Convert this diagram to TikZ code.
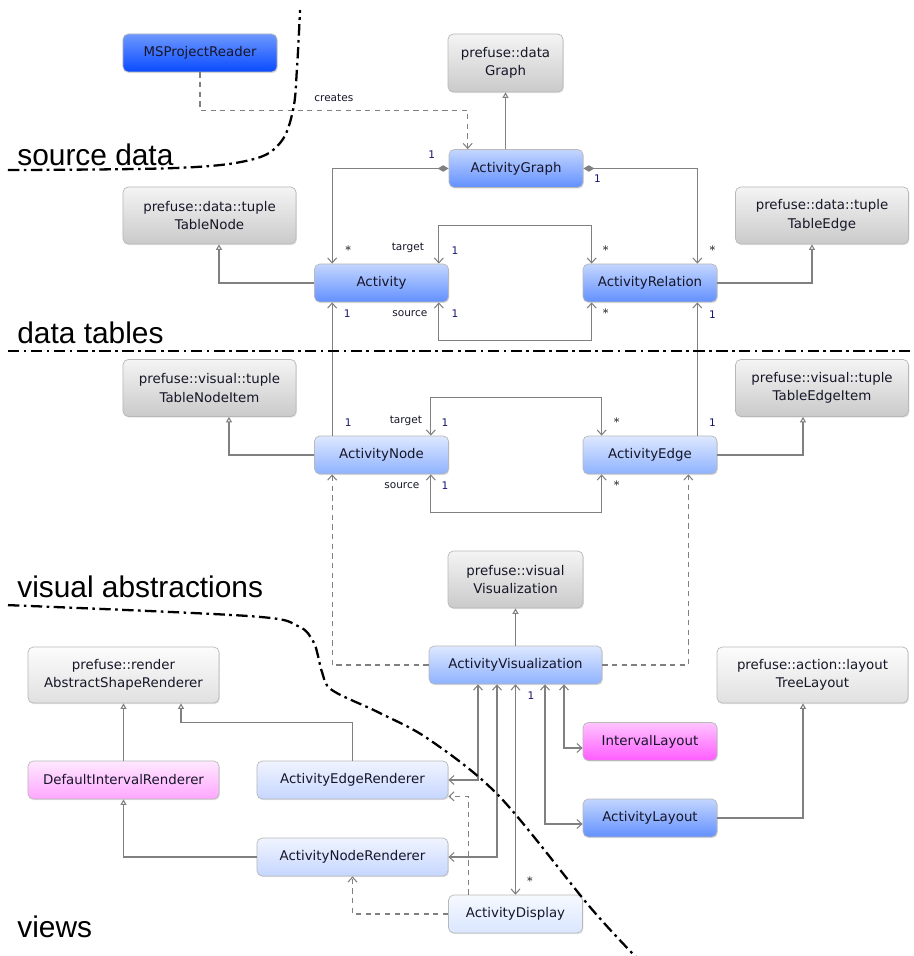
\documentclass[tikz,border=0pt]{standalone}
\usepackage{fontspec}
\setmainfont{DejaVu Sans}
\newfontfamily\regionfont{Liberation Sans}
\usepackage{tikz}
\usetikzlibrary{positioning, arrows.meta, shadows, calc}

\definecolor{textdark}{RGB}{22, 22, 40}
\definecolor{navy}{RGB}{20, 20, 110}
\definecolor{linegray}{RGB}{128, 128, 128}
\definecolor{mspTop}{RGB}{110, 152, 255}
\definecolor{mspBot}{RGB}{8, 74, 255}
\definecolor{blueATop}{RGB}{196, 214, 255}
\definecolor{blueABot}{RGB}{98, 144, 255}
\definecolor{blueBTop}{RGB}{222, 232, 255}
\definecolor{blueBBot}{RGB}{142, 178, 255}
\definecolor{blueCTop}{RGB}{240, 244, 255}
\definecolor{blueCBot}{RGB}{198, 214, 255}
\definecolor{blueDTop}{RGB}{246, 249, 255}
\definecolor{blueDBot}{RGB}{218, 230, 255}
\definecolor{grayTop}{RGB}{244, 244, 244}
\definecolor{grayBot}{RGB}{202, 202, 202}
\definecolor{grayLTop}{RGB}{252, 252, 252}
\definecolor{grayLBot}{RGB}{224, 224, 224}
\definecolor{pinkTop}{RGB}{255, 196, 255}
\definecolor{pinkBot}{RGB}{255, 92, 255}
\definecolor{pinkLTop}{RGB}{255, 232, 255}
\definecolor{pinkLBot}{RGB}{255, 166, 255}

\begin{document}
\begin{tikzpicture}[
    on grid,
    >={Straight Barb[length=1mm, width=1.8mm]},
    cls/.style={draw=black!28, rounded corners=3pt, minimum width=2.68cm, minimum height=0.76cm, align=center, text=textdark, font=\fontsize{7.6}{10.5}\selectfont, drop shadow={opacity=0.22, shadow xshift=0.5pt, shadow yshift=-0.7pt}},
    msp/.style={cls, top color=mspTop, bottom color=mspBot},
    blueA/.style={cls, top color=blueATop, bottom color=blueABot},
    blueB/.style={cls, top color=blueBTop, bottom color=blueBBot},
    blueC/.style={cls, top color=blueCTop, bottom color=blueCBot},
    blueD/.style={cls, top color=blueDTop, bottom color=blueDBot},
    pinkA/.style={cls, top color=pinkTop, bottom color=pinkBot},
    pinkB/.style={cls, top color=pinkLTop, bottom color=pinkLBot},
    pkg/.style={cls, top color=grayTop, bottom color=grayBot, minimum width=3.46cm, minimum height=1.14cm},
    pkgLight/.style={cls, top color=grayLTop, bottom color=grayLBot, minimum width=3.82cm, minimum height=1.12cm},
    assoc/.style={->, linegray, line width=0.6pt},
    biassoc/.style={<->, linegray, line width=0.6pt},
    depend/.style={->, linegray, line width=0.6pt, dash pattern=on 3pt off 2.5pt},
    inherit/.style={-{Triangle[open, length=1.1mm, width=1.2mm]}, linegray, line width=0.6pt},
    comp/.style={{Diamond[length=2.2mm, width=1.3mm]}->, linegray, line width=0.6pt},
    mult/.style={font=\fontsize{6}{7}\selectfont, text=navy, inner sep=0pt},
    star/.style={font=\scriptsize, inner sep=0pt},
    role/.style={font=\fontsize{6}{7}\selectfont, text=textdark, inner sep=0pt},
    region/.style={font=\regionfont\fontsize{17}{20}\selectfont, inner sep=0pt},
    divider/.style={line width=1.3pt, dash pattern=on 6.5pt off 2.5pt on 1.5pt off 2.5pt}
]

\useasboundingbox (-7.63,5.66) rectangle (10.63,-13.46);

% data tables
\node[blueA] (act) {Activity};
\node[blueA, right=5.37cm of act] (rel) {ActivityRelation};
\node[blueA, above right=2.29cm and 2.69cm of act] (ag) {ActivityGraph};
\node[pkg, minimum width=2.3cm, minimum height=1.16cm, above left=2.11cm and 0.21cm of ag] (graph) {prefuse::data\\Graph};
\node[msp, minimum width=3.08cm, above left=2.31cm and 6.32cm of ag] (reader) {MSProjectReader};
\node[pkg, above left=1.35cm and 3.44cm of act] (tnode) {prefuse::data::tuple\\TableNode};
\node[pkg, above right=1.35cm and 3.44cm of rel] (tedge) {prefuse::data::tuple\\TableEdge};

% visual abstractions
\node[blueB, below=3.44cm of act] (anode) {ActivityNode};
\node[blueB, below=3.44cm of rel] (aedge) {ActivityEdge};
\node[pkg, below=3.45cm of tnode] (tnitem) {prefuse::visual::tuple\\TableNodeItem};
\node[pkg, below=3.45cm of tedge] (teitem) {prefuse::visual::tuple\\TableEdgeItem};
\node[blueB, minimum width=3.46cm, below right=4.2cm and 2.68cm of anode] (avis) {ActivityVisualization};
\node[pkg, minimum width=2.7cm, above=1.71cm of avis] (vis) {prefuse::visual\\Visualization};
\node[pkgLight, below right=0.2cm and 5.94cm of avis] (tree) {prefuse::action::layout\\TreeLayout};
\node[pinkA, below right=1.53cm and 2.69cm of avis] (ilayout) {IntervalLayout};
\node[blueA, below=1.53cm of ilayout] (alayout) {ActivityLayout};

% views
\node[blueD, below=4.98cm of avis] (adisp) {ActivityDisplay};
\node[blueC, minimum width=3.82cm, below left=2.3cm and 3.26cm of avis] (aerend) {ActivityEdgeRenderer};
\node[blueC, minimum width=3.82cm, below=1.54cm of aerend] (anrend) {ActivityNodeRenderer};
\node[pinkB, minimum width=3.82cm, left=4.58cm of aerend] (dirend) {DefaultIntervalRenderer};
\node[pkgLight, above=2.1cm of dirend] (asr) {prefuse::render\\AbstractShapeRenderer};

% connectors
\draw[depend] (reader.south) |- node[role, above=0.15cm, pos=0.75] (lcreates) {creates} ($(ag.north west)+(0.38,0.78)$) -- ([xshift=0.38cm]ag.north west);
\draw[inherit] (ag.north -| graph.south) -- (graph.south);
\draw[comp] (ag.west) -| ([xshift=0.36cm]act.north west);
\draw[comp] (ag.east) -| ([xshift=-0.4cm]rel.north east);
\draw[biassoc] ([xshift=-0.2cm]act.north east) -- ++(0,0.76) -| ([xshift=0.18cm]rel.north west);
\draw[biassoc] ([xshift=-0.2cm]act.south east) -- ++(0,-0.76) -| ([xshift=0.18cm]rel.south west);
\draw[inherit] (act.west) -| ([xshift=0.19cm]tnode.south);
\draw[inherit] (rel.east) -| ([xshift=-0.2cm]tedge.south);
\draw[assoc] ([xshift=0.36cm]anode.north west) -- ([xshift=0.36cm]act.south west);
\draw[assoc] ([xshift=-0.4cm]aedge.north east) -- ([xshift=-0.4cm]rel.south east);
\draw[inherit] (anode.west) -| ([xshift=0.39cm]tnitem.south);
\draw[inherit] (aedge.east) -| ([xshift=-0.38cm]teitem.south);
\draw[biassoc] ([xshift=-0.36cm]anode.north east) -- ++(0,0.76) -| ([xshift=0.38cm]aedge.north west);
\draw[biassoc] ([xshift=-0.36cm]anode.south east) -- ++(0,-0.76) -| ([xshift=0.38cm]aedge.south west);
\draw[depend] (avis.west) -| ([xshift=0.36cm]anode.south west);
\draw[depend] (avis.east) -| ([xshift=-0.58cm]aedge.south east);
\draw[inherit] (avis.north) -- (vis.south);
\draw[biassoc] ([xshift=-0.75cm]avis.south) |- (aerend.east);
\draw[biassoc] ([xshift=-0.37cm]avis.south) |- (anrend.east);
\draw[biassoc] (avis.south) -- (adisp.north);
\draw[biassoc] ([xshift=0.59cm]avis.south) |- ([yshift=-0.12cm]alayout.west);
\draw[biassoc] ([xshift=0.97cm]avis.south) |- ([yshift=-0.13cm]ilayout.west);
\draw[inherit] (alayout.east) -| ([xshift=-0.19cm]tree.south);
\draw[inherit] (dirend.north) -- (asr.south);
\draw[inherit] (aerend.north) -- ++(0,0.76) -| ([xshift=1.15cm]asr.south);
\draw[inherit] (anrend.west) -| (dirend.south);
\draw[depend] (adisp.west) -| (anrend.south);
\draw[depend] ([xshift=0.4cm]adisp.north west) |- ([yshift=0.06cm]aerend.south east);

% multiplicities and roles
\node[mult, above left=0.27cm and 0.34cm of ag.west, anchor=center] (m1) {1};
\node[star, above right=0.3cm and 0.68cm of act.north west, anchor=center] (m2) {$*$};
\node[mult, below right=0.21cm and 0.28cm of ag.east, anchor=center] (m3) {1};
\node[star, above left=0.3cm and 0.1cm of rel.north east, anchor=center] (m4) {$*$};
\node[role, above left=0.32cm and 0.82cm of act.north east, anchor=center] (r1) {target};
\node[mult, above right=0.26cm and 0.12cm of act.north east, anchor=center] (m5) {1};
\node[star, above right=0.3cm and 0.46cm of rel.north west, anchor=center] (m6) {$*$};
\node[role, below left=0.22cm and 0.78cm of act.south east, anchor=center] (r2) {source};
\node[mult, below right=0.22cm and 0.12cm of act.south east, anchor=center] (m7) {1};
\node[star, below right=0.18cm and 0.46cm of rel.south west, anchor=center] (m8) {$*$};
\node[mult, below right=0.22cm and 0.66cm of act.south west, anchor=center] (m9) {1};
\node[mult, above right=0.26cm and 0.68cm of anode.north west, anchor=center] (m10) {1};
\node[mult, below left=0.24cm and 0.1cm of rel.south east, anchor=center] (m11) {1};
\node[mult, above left=0.26cm and 0.1cm of aedge.north east, anchor=center] (m12) {1};
\node[role, above left=0.3cm and 0.86cm of anode.north east, anchor=center] (r3) {target};
\node[mult, above left=0.26cm and 0.08cm of anode.north east, anchor=center] (m13) {1};
\node[star, above right=0.3cm and 0.68cm of aedge.north west, anchor=center] (m14) {$*$};
\node[role, below left=0.22cm and 0.94cm of anode.south east, anchor=center] (r4) {source};
\node[mult, below left=0.22cm and 0.08cm of anode.south east, anchor=center] (m15) {1};
\node[star, below right=0.18cm and 0.68cm of aedge.south west, anchor=center] (m16) {$*$};
\node[mult, below right=0.22cm and 0.31cm of avis.south, anchor=center] (m17) {1};
\node[star, above right=0.3cm and 0.29cm of adisp.north, anchor=center] (m18) {$*$};

% layer boundaries
\begin{scope}[shift={(-7.63cm,5.66cm)}, x=0.02cm, y=-0.02cm]
\draw[divider] plot[smooth, tension=0.6] coordinates {(8,170) (175,168) (250,160) (280,143) (293,110) (297,67) (300,10)};
\draw[divider] (8,351) -- (913,351);
\draw[divider] plot[smooth, tension=0.55] coordinates {(8,605) (250,616) (298,626) (313,641) (318,656) (322,672) (332,690) (380,713) (430,740) (500,797) (590,907) (637,958)};
\node[region, anchor=base west] (lsource) at (17,165) {source data};
\node[region, anchor=base west] (ltables) at (17,343) {data tables};
\node[region, anchor=base west] (lvisual) at (17,597) {visual abstractions};
\node[region, anchor=base west] (lviews) at (17,937) {views};
\end{scope}

\end{tikzpicture}
\end{document}
